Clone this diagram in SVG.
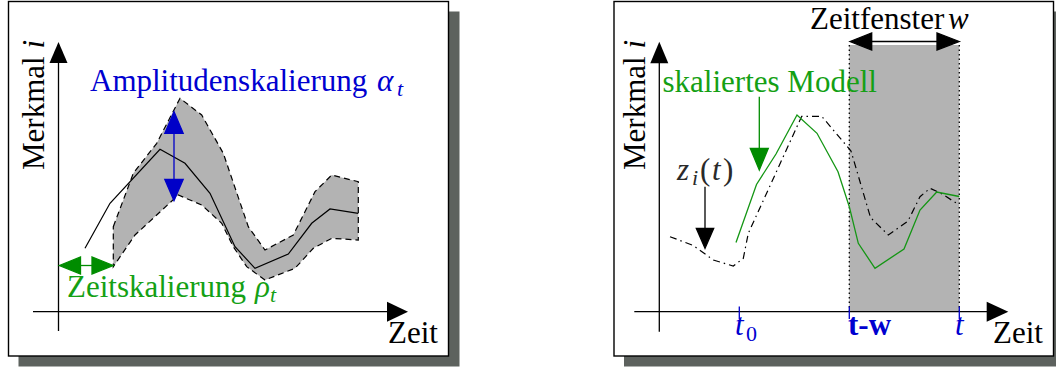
<svg xmlns="http://www.w3.org/2000/svg" width="1056" height="367" viewBox="0 0 1056 367">
<style>
text{font-family:"Liberation Serif","Times New Roman",serif;font-size:31px;}
.it{font-style:italic;}
.sub{font-size:22px;}
.frame{fill:#fff;stroke:#000;stroke-width:1.4;}
.shadow{fill:#5d625e;}
.axis{stroke:#000;stroke-width:1.3;fill:none;}
.band{fill:#b3b3b3;stroke:#000;stroke-width:1.2;stroke-dasharray:6 4;}
.solid{fill:none;stroke:#000;stroke-width:1.2;}
.dashdot{fill:none;stroke:#000;stroke-width:1.2;stroke-dasharray:7 4 1.5 4;}
.model{fill:none;stroke:#149614;stroke-width:1.3;}
.blue{fill:#0000d0;}
.green{fill:#14a014;}
.garrow{stroke:#008c00;fill:#008c00;stroke-width:1.3;}
.barrow{stroke:#0000c8;fill:#0000c8;stroke-width:1.3;}
.karrow{stroke:#000;fill:#000;stroke-width:1.3;}
.tick{stroke:#0000cc;stroke-width:1.3;}
.dots{stroke:#000;stroke-width:1.3;stroke-dasharray:1.5 3;}
</style>

<g id="left-panel">
  <rect class="shadow" x="18.5" y="11.5" width="441" height="355"/>
  <rect class="frame" x="8.5" y="1.5" width="440" height="354.5"/>
</g>
<g id="right-panel">
  <rect class="shadow" x="624" y="11.5" width="441" height="355"/>
  <rect class="frame" x="614" y="1.5" width="439.5" height="354.5"/>
</g>

<g id="left-band">
  <path class="band" d="M113.3,226.7 L133.3,173.3 L156.7,143.3 L180,98.3 L201.7,115 L223.3,153.3 L248.3,226.7 L265,250 L293.3,235 L315,191.7 L331.7,175 L358.3,181.7 L358.3,240 L331.7,238.3 L313.3,248.3 L295,268.3 L265,280 L246.7,266.7 L233.3,246.7 L221.7,223.3 L201.7,205 L178.3,195 L156.7,215 L135,235 L113.3,266.7 Z"/>
</g>
<g id="left-curve">
  <polyline class="solid" points="85,248.3 110,203.3 160,149.3 185,163.3 210,193.3 235,246.7 255,268.3 288.3,254 311.7,223.3 330,209 358.3,213.3"/>
</g>

<g id="right-window">
  <rect x="849.3" y="45" width="110" height="266.7" fill="#b3b3b3"/>
</g>

<g id="connectors">
  <!-- left axes -->
  <line class="axis" x1="58.5" y1="331" x2="58.5" y2="60"/>
  <polygon points="58.5,42 49.5,63 67.5,63" fill="#000"/>
  <line class="axis" x1="33" y1="311.7" x2="390" y2="311.7"/>
  <polygon points="408,311.7 387,301.7 387,321.7" fill="#000"/>
  <!-- time scaling arrow -->
  <line class="garrow" x1="70" y1="265.5" x2="102" y2="265.5"/>
  <polygon class="garrow" points="59.3,265.5 80.5,257 80.5,274"/>
  <polygon class="garrow" points="113.3,265.5 92,257 92,274"/>
  <!-- amplitude arrow -->
  <line class="barrow" x1="174" y1="125" x2="174" y2="188"/>
  <polygon class="barrow" points="174,111.7 164.8,133.3 183.2,133.3"/>
  <polygon class="barrow" points="174,200.7 164.8,179.3 183.2,179.3"/>

  <!-- right axes -->
  <line class="axis" x1="659.3" y1="331.7" x2="659.3" y2="60"/>
  <polygon points="659.3,41.7 650.3,63.3 668.3,63.3" fill="#000"/>
  <line class="axis" x1="634.3" y1="311.7" x2="990" y2="311.7"/>
  <polygon points="1008.3,311.7 986.7,301.7 986.7,321.7" fill="#000"/>
  <!-- window edges -->
  <line class="dots" x1="849.3" y1="45" x2="849.3" y2="311"/>
  <line class="dots" x1="959.3" y1="45" x2="959.3" y2="311"/>
  <!-- ticks -->
  <line class="tick" x1="739.3" y1="306.5" x2="739.3" y2="319"/>
  <line class="tick" x1="849.3" y1="306.5" x2="849.3" y2="319"/>
  <line class="tick" x1="959.3" y1="306.5" x2="959.3" y2="319"/>
  <!-- window width arrow -->
  <line class="karrow" x1="860" y1="41.5" x2="948" y2="41.5"/>
  <polygon class="karrow" points="850,41.5 871.7,33 871.7,50"/>
  <polygon class="karrow" points="959.3,41.5 937,33 937,50"/>
  <!-- curves -->
  <polyline class="dashdot" points="670,236.7 693.3,245.5 713.3,260 733.3,266 743.3,258.3 748.3,233.3 801.7,116.3 821.7,116.3 851,151 870.5,217.5 888.3,235 908,221 920,196.7 930,188.3 940,192.7 959.3,205"/>
  <polyline class="model" points="736,242.5 756.5,184.5 776,154 797,115 817,133.3 838,171.7 849.3,206.7 858.3,243.3 875,268.3 904,249 920,210 936.7,192 959.3,196.5"/>
  <!-- label arrows -->
  <line class="garrow" x1="759.3" y1="96.7" x2="759.3" y2="152"/>
  <polygon class="garrow" points="759.3,170 750.3,148.3 768.3,148.3"/>
  <line class="karrow" x1="705" y1="186.7" x2="705" y2="232"/>
  <polygon class="karrow" points="705,248.3 696.3,228.3 713.7,228.3"/>
</g>

<g id="left-labels">
  <text transform="translate(43.5,170) rotate(-90)">Merkmal <tspan class="it">i</tspan></text>
  <text class="blue" x="90" y="91">Amplitudenskalierung<tspan class="it" x="377">α</tspan><tspan class="it sub" x="397" dy="5">t</tspan></text>
  <text class="green" x="67" y="297">Zeitskalierung<tspan class="it" x="255">ρ</tspan><tspan class="it sub" x="270" dy="5">t</tspan></text>
  <text x="388" y="343">Zeit</text>
</g>

<g id="right-labels">
  <text transform="translate(645,170) rotate(-90)">Merkmal <tspan class="it">i</tspan></text>
  <text x="810" y="29">Zeitfenster<tspan class="it" x="948">w</tspan></text>
  <text class="green" x="662.5" y="91.5">skaliertes Modell</text>
  <text y="180" fill="#2a2a2a"><tspan class="it" x="677">z</tspan><tspan class="it sub" x="692" dy="5">i</tspan><tspan x="700" dy="-5">(</tspan><tspan class="it" x="712">t</tspan><tspan x="723">)</tspan></text>
  <text class="blue" x="735" y="335"><tspan class="it">t</tspan><tspan class="sub" x="746" dy="6">0</tspan></text>
  <text class="blue" x="848" y="335" font-weight="bold" font-size="25">t-w</text>
  <text class="blue it" x="955" y="335">t</text>
  <text x="993" y="343">Zeit</text>
</g>
</svg>
